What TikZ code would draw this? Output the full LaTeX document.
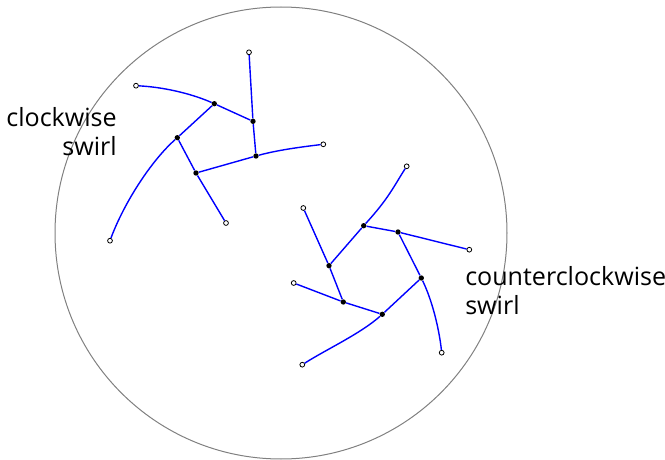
\documentclass[tikz,border=0pt]{standalone}
\usepackage{fontspec}
\setmainfont{Open Sans}
\begin{document}
\begin{tikzpicture}[x=0.75pt,y=-0.75pt,
  dot/.style={circle,fill=black,inner sep=0pt,minimum size=4pt},
  endpt/.style={circle,draw=black,fill=white,line width=0.6pt,inner sep=0pt,minimum size=3.6pt},
  arm/.style={blue,line width=1.05pt},
  lbl/.style={font=\fontsize{18.8}{21.8}\selectfont,inner sep=0pt}]
\useasboundingbox (0,0) rectangle (665,460);
\draw[gray,line width=0.75pt] (281,233) circle[radius=226];
% clockwise swirl
\node[dot] (p1) at (214.3,103.7) {};
\node[dot] (p2) at (253,121.3) {};
\node[dot] (p3) at (256,156) {};
\node[dot] (p4) at (196,173) {};
\node[dot] (p5) at (177.3,137.7) {};
\node[endpt] (a1) at (136,85.7) {};
\node[endpt] (a2) at (249,52.3) {};
\node[endpt] (a3) at (323.3,144.3) {};
\node[endpt] (a4) at (226,223) {};
\node[endpt] (a5) at (110,240.7) {};
\draw[arm] (a1) .. controls (162,87) and (190,93) .. (p1);
\draw[arm] (p1) -- (p2);
\draw[arm] (a2) -- (p2) -- (p3);
\draw[arm] (p3) .. controls (278,150) and (301,147) .. (a3);
\draw[arm] (p3) -- (p4);
\draw[arm] (p4) -- (a4);
\draw[arm] (p4) -- (p5);
\draw[arm] (p5) -- (p1);
\draw[arm] (p5) .. controls (151,161) and (124,203) .. (a5);
% counterclockwise swirl
\node[dot] (q1) at (363.7,225.7) {};
\node[dot] (q2) at (398,232) {};
\node[dot] (q3) at (421.3,278) {};
\node[dot] (q4) at (382.3,314.3) {};
\node[dot] (q5) at (343.3,302) {};
\node[dot] (q6) at (329,265.7) {};
\node[endpt] (b1) at (406.7,166.3) {};
\node[endpt] (b2) at (469.3,249.7) {};
\node[endpt] (b3) at (441.7,352.7) {};
\node[endpt] (b4) at (302.3,364.7) {};
\node[endpt] (b5) at (293.7,283) {};
\node[endpt] (b6) at (303.3,208) {};
\draw[arm] (q1) .. controls (389,198) and (394,186) .. (b1);
\draw[arm] (q1) -- (q2);
\draw[arm] (q2) -- (b2);
\draw[arm] (q2) -- (q3);
\draw[arm] (q3) .. controls (432,300) and (439,328) .. (b3);
\draw[arm] (q3) -- (q4);
\draw[arm] (q4) .. controls (360,334) and (327,349) .. (b4);
\draw[arm] (q4) -- (q5);
\draw[arm] (q5) -- (b5);
\draw[arm] (q5) -- (q6);
\draw[arm] (q6) -- (b6);
\draw[arm] (q6) -- (q1);
% labels
\node[lbl,align=right,anchor=north east] (lcw) at (117,107) {clockwise\\swirl};
\node[lbl,align=left,anchor=north west] (lccw) at (465,266) {counterclockwise\\swirl};
\end{tikzpicture}
\end{document}
